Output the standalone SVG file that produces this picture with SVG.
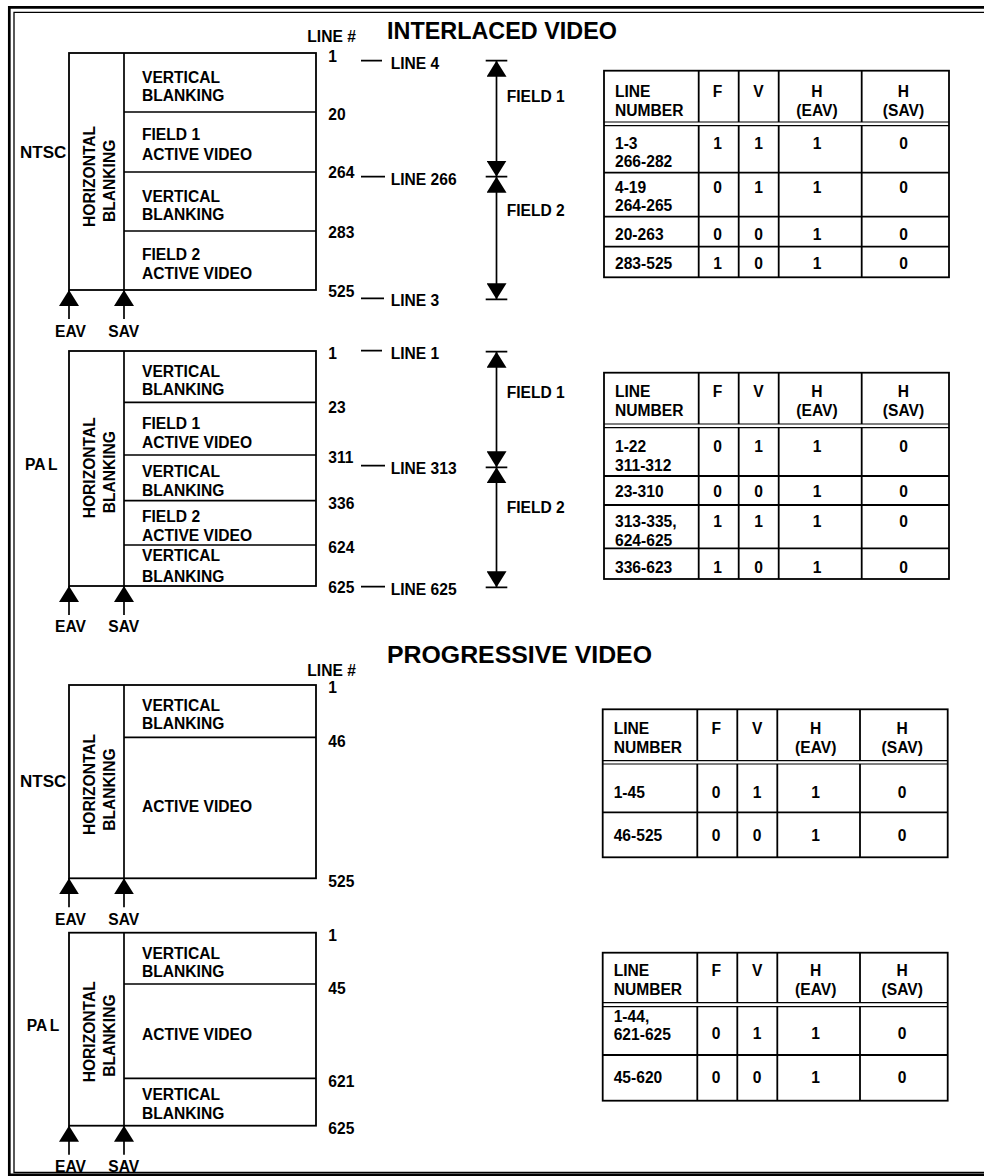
<svg xmlns="http://www.w3.org/2000/svg" width="984" height="1176" viewBox="0 0 984 1176">
<style>
text{font-family:"Liberation Sans",Arial,Helvetica,sans-serif;font-weight:bold;font-size:15.6px;fill:#000}
.c{text-anchor:middle}
.ttl{font-size:23px}
.big{font-size:17px}
.ln{stroke:#000;stroke-width:1.7;fill:none}
.box{stroke:#000;stroke-width:1.8;fill:#fff}
.tb{stroke:#000;stroke-width:1.8;fill:none}
.dl{stroke:#000;stroke-width:1.2;fill:none}
.arr{stroke:#000;stroke-width:1.7;fill:none}
</style>
<defs>
<marker id="ah" viewBox="0 0 16 20" refX="16" refY="10" markerWidth="16" markerHeight="20" markerUnits="userSpaceOnUse" orient="auto-start-reverse">
<path d="M0,0 L16,10 L0,20 Z" fill="#000"/>
</marker>
</defs>
<rect width="984" height="1176" fill="#fff"/>
<g id="border">
<path d="M984,7.3 H9.3 V1174.8 H984" stroke="#000" stroke-width="2.7" fill="none"/>
<path d="M984,12.3 H14 V1172.5 H984" stroke="#000" stroke-width="1.3" fill="none"/>
</g>
<g id="titles">
<text x="387" y="39" class="ttl" textLength="230" lengthAdjust="spacingAndGlyphs">INTERLACED VIDEO</text>
<text x="387" y="663" class="ttl" textLength="265" lengthAdjust="spacingAndGlyphs">PROGRESSIVE VIDEO</text>
</g>

<g id="ntsc-interlaced">
<rect x="69" y="53" width="247" height="237" class="box"/>
<path d="M124,53 V290 M124,112 H316 M124,172 H316 M124,231 H316" class="ln"/>
<text x="20" y="158" class="big">NTSC</text>
<text transform="translate(95,227) rotate(-90)">HORIZONTAL</text>
<text transform="translate(115,222) rotate(-90)">BLANKING</text>
<text x="142" y="82.7">VERTICAL</text><text x="142" y="100.7">BLANKING</text>
<text x="142" y="140">FIELD 1</text><text x="142" y="160.3">ACTIVE VIDEO</text>
<text x="142" y="201.7">VERTICAL</text><text x="142" y="220">BLANKING</text>
<text x="142" y="260">FIELD 2</text><text x="142" y="278.5">ACTIVE VIDEO</text>
<text x="307.3" y="41.5">LINE #</text>
<text x="328.3" y="62">1</text>
<text x="328.3" y="120">20</text>
<text x="328.3" y="178.3">264</text>
<text x="328.3" y="237.7">283</text>
<text x="328.3" y="296.7">525</text>
<text x="390.7" y="69">LINE 4</text>
<text x="390.7" y="185">LINE 266</text>
<text x="390.7" y="306">LINE 3</text>
<text x="55" y="336.5">EAV</text>
<text x="108.3" y="336.5">SAV</text>
</g>

<g id="pal-interlaced">
<rect x="69" y="351" width="247" height="235" class="box"/>
<path d="M124,351 V586 M124,402.3 H316 M124,455 H316 M124,500.7 H316 M124,545 H316" class="ln"/>
<text x="25" y="470">PA<tspan dx="2.5">L</tspan></text>
<text transform="translate(95,518.3) rotate(-90)">HORIZONTAL</text>
<text transform="translate(115,513.3) rotate(-90)">BLANKING</text>
<text x="142" y="376.7">VERTICAL</text><text x="142" y="394.5">BLANKING</text>
<text x="142" y="429.3">FIELD 1</text><text x="142" y="447.5">ACTIVE VIDEO</text>
<text x="142" y="476.7">VERTICAL</text><text x="142" y="495.7">BLANKING</text>
<text x="142" y="521.7">FIELD 2</text><text x="142" y="540.5">ACTIVE VIDEO</text>
<text x="142" y="561">VERTICAL</text><text x="142" y="581.5">BLANKING</text>
<text x="328.3" y="359">1</text>
<text x="328.3" y="412.7">23</text>
<text x="328.3" y="463.3">311</text>
<text x="328.3" y="509.3">336</text>
<text x="328.3" y="552.7">624</text>
<text x="328.3" y="593.3">625</text>
<text x="390.7" y="359">LINE 1</text>
<text x="390.7" y="474">LINE 313</text>
<text x="390.7" y="595">LINE 625</text>
<text x="55" y="632">EAV</text>
<text x="108.3" y="632">SAV</text>
</g>

<g id="ntsc-progressive">
<rect x="69" y="685" width="247" height="193.3" class="box"/>
<path d="M124,685 V878.3 M124,737.3 H316" class="ln"/>
<text x="20" y="786.7" class="big">NTSC</text>
<text transform="translate(95,835) rotate(-90)">HORIZONTAL</text>
<text transform="translate(115,830.7) rotate(-90)">BLANKING</text>
<text x="142" y="711">VERTICAL</text><text x="142" y="729.3">BLANKING</text>
<text x="142" y="811.7">ACTIVE VIDEO</text>
<text x="307.3" y="676">LINE #</text>
<text x="328.3" y="693.3">1</text>
<text x="328.3" y="746.7">46</text>
<text x="328.3" y="886.7">525</text>
<text x="55" y="924.5">EAV</text>
<text x="108.3" y="924.5">SAV</text>
</g>

<g id="pal-progressive">
<rect x="69" y="932.7" width="247" height="193" class="box"/>
<path d="M124,932.7 V1125.7 M124,984 H316 M124,1078.3 H316" class="ln"/>
<text x="26.7" y="1030.7">PA<tspan dx="2.5">L</tspan></text>
<text transform="translate(95,1082.3) rotate(-90)">HORIZONTAL</text>
<text transform="translate(115,1076.7) rotate(-90)">BLANKING</text>
<text x="142" y="959">VERTICAL</text><text x="142" y="977.3">BLANKING</text>
<text x="142" y="1040">ACTIVE VIDEO</text>
<text x="142" y="1100">VERTICAL</text><text x="142" y="1119.3">BLANKING</text>
<text x="328.3" y="940.7">1</text>
<text x="328.3" y="994">45</text>
<text x="328.3" y="1086.7">621</text>
<text x="328.3" y="1134">625</text>
<text x="55" y="1171.5">EAV</text>
<text x="108.3" y="1171.5">SAV</text>
</g>

<g id="field-ntsc">
<text x="506.7" y="101.7">FIELD 1</text>
<text x="506.7" y="216">FIELD 2</text>
</g>
<g id="field-pal">
<text x="506.7" y="398.3">FIELD 1</text>
<text x="506.7" y="513.3">FIELD 2</text>
</g>

<g id="connectors">
<path d="M361,60.7 H382 M361,176.7 H385 M361,298.3 H384 M361,350.7 H382 M361,465.7 H385 M361,586.7 H385" class="ln"/>
<path d="M485.7,60.7 H507.3 M485.7,176.7 H507.3 M485.7,299.3 H507.3 M485.7,351.7 H507.3 M485.7,467.3 H507.3 M485.7,587.3 H507.3" class="ln"/>
<line x1="496.5" y1="60.7" x2="496.5" y2="176.7" class="arr" marker-start="url(#ah)" marker-end="url(#ah)"/>
<line x1="496.5" y1="176.7" x2="496.5" y2="299.3" class="arr" marker-start="url(#ah)" marker-end="url(#ah)"/>
<line x1="496.5" y1="351.7" x2="496.5" y2="467.3" class="arr" marker-start="url(#ah)" marker-end="url(#ah)"/>
<line x1="496.5" y1="467.3" x2="496.5" y2="587.3" class="arr" marker-start="url(#ah)" marker-end="url(#ah)"/>
<line x1="69" y1="319" x2="69" y2="290" class="arr" marker-end="url(#ah)"/>
<line x1="124" y1="319" x2="124" y2="290" class="arr" marker-end="url(#ah)"/>
<line x1="69" y1="615" x2="69" y2="586" class="arr" marker-end="url(#ah)"/>
<line x1="124" y1="615" x2="124" y2="586" class="arr" marker-end="url(#ah)"/>
<line x1="69" y1="907.3" x2="69" y2="878.3" class="arr" marker-end="url(#ah)"/>
<line x1="124" y1="907.3" x2="124" y2="878.3" class="arr" marker-end="url(#ah)"/>
<line x1="69" y1="1154.7" x2="69" y2="1125.7" class="arr" marker-end="url(#ah)"/>
<line x1="124" y1="1154.7" x2="124" y2="1125.7" class="arr" marker-end="url(#ah)"/>
</g>

<g id="table-ntsc-interlaced">
<rect x="604" y="70.7" width="345" height="206.6" class="tb" stroke-width="2"/>
<path d="M698.7,70.7 V122 M738.7,70.7 V122 M778.7,70.7 V122 M861.7,70.7 V122 M698.7,125.7 V277.3 M738.7,125.7 V277.3 M778.7,125.7 V277.3 M861.7,125.7 V277.3 M604,172.7 H949 M604,216.7 H949 M604,246.7 H949" class="tb"/>
<path d="M604,122 H949 M604,125.7 H949" class="dl"/>
<text x="615" y="96.7">LINE</text><text x="615" y="116">NUMBER</text>
<text x="717.5" y="96.7" class="c">F</text>
<text x="758.5" y="96.7" class="c">V</text>
<text x="817" y="96.7" class="c">H</text><text x="817" y="116" class="c">(EAV)</text>
<text x="903.5" y="96.7" class="c">H</text><text x="903.5" y="116" class="c">(SAV)</text>
<text x="615" y="149.3">1-3</text><text x="615" y="167.3">266-282</text>
<text x="717.5" y="149.3" class="c">1</text><text x="758.5" y="149.3" class="c">1</text><text x="817" y="149.3" class="c">1</text><text x="903.5" y="149.3" class="c">0</text>
<text x="615" y="192.7">4-19</text><text x="615" y="210.7">264-265</text>
<text x="717.5" y="192.7" class="c">0</text><text x="758.5" y="192.7" class="c">1</text><text x="817" y="192.7" class="c">1</text><text x="903.5" y="192.7" class="c">0</text>
<text x="615" y="240">20-263</text>
<text x="717.5" y="240" class="c">0</text><text x="758.5" y="240" class="c">0</text><text x="817" y="240" class="c">1</text><text x="903.5" y="240" class="c">0</text>
<text x="615" y="269.3">283-525</text>
<text x="717.5" y="269.3" class="c">1</text><text x="758.5" y="269.3" class="c">0</text><text x="817" y="269.3" class="c">1</text><text x="903.5" y="269.3" class="c">0</text>
</g>

<g id="table-pal-interlaced">
<rect x="604" y="372.7" width="345" height="206.3" class="tb" stroke-width="2"/>
<path d="M698.7,372.7 V424 M738.7,372.7 V424 M778.7,372.7 V424 M861.7,372.7 V424 M698.7,427.7 V579 M738.7,427.7 V579 M778.7,427.7 V579 M861.7,427.7 V579 M604,476 H949 M604,505 H949 M604,548.3 H949" class="tb"/>
<path d="M604,424 H949 M604,427.7 H949" class="dl"/>
<text x="615" y="396.7">LINE</text><text x="615" y="416">NUMBER</text>
<text x="717.5" y="396.7" class="c">F</text>
<text x="758.5" y="396.7" class="c">V</text>
<text x="817" y="396.7" class="c">H</text><text x="817" y="416" class="c">(EAV)</text>
<text x="903.5" y="396.7" class="c">H</text><text x="903.5" y="416" class="c">(SAV)</text>
<text x="615" y="451.7">1-22</text><text x="615" y="470.7">311-312</text>
<text x="717.5" y="451.7" class="c">0</text><text x="758.5" y="451.7" class="c">1</text><text x="817" y="451.7" class="c">1</text><text x="903.5" y="451.7" class="c">0</text>
<text x="615" y="497.3">23-310</text>
<text x="717.5" y="497.3" class="c">0</text><text x="758.5" y="497.3" class="c">0</text><text x="817" y="497.3" class="c">1</text><text x="903.5" y="497.3" class="c">0</text>
<text x="615" y="526.7">313-335,</text><text x="615" y="545.7">624-625</text>
<text x="717.5" y="526.7" class="c">1</text><text x="758.5" y="526.7" class="c">1</text><text x="817" y="526.7" class="c">1</text><text x="903.5" y="526.7" class="c">0</text>
<text x="615" y="573.3">336-623</text>
<text x="717.5" y="573.3" class="c">1</text><text x="758.5" y="573.3" class="c">0</text><text x="817" y="573.3" class="c">1</text><text x="903.5" y="573.3" class="c">0</text>
</g>

<g id="table-ntsc-progressive">
<rect x="602.7" y="709.3" width="345" height="148" class="tb" stroke-width="2"/>
<path d="M697.3,709.3 V760.7 M737.3,709.3 V760.7 M777.3,709.3 V760.7 M860,709.3 V760.7 M697.3,764 V857.3 M737.3,764 V857.3 M777.3,764 V857.3 M860,764 V857.3 M602.7,812.3 H947.7" class="tb"/>
<path d="M602.7,760.7 H947.7 M602.7,764 H947.7" class="dl"/>
<text x="613.7" y="734">LINE</text><text x="613.7" y="753.3">NUMBER</text>
<text x="716.2" y="734" class="c">F</text>
<text x="757.2" y="734" class="c">V</text>
<text x="815.7" y="734" class="c">H</text><text x="815.7" y="753.3" class="c">(EAV)</text>
<text x="902.2" y="734" class="c">H</text><text x="902.2" y="753.3" class="c">(SAV)</text>
<text x="613.7" y="798.3">1-45</text>
<text x="716.2" y="798.3" class="c">0</text><text x="757.2" y="798.3" class="c">1</text><text x="815.7" y="798.3" class="c">1</text><text x="902.2" y="798.3" class="c">0</text>
<text x="613.7" y="840.7">46-525</text>
<text x="716.2" y="840.7" class="c">0</text><text x="757.2" y="840.7" class="c">0</text><text x="815.7" y="840.7" class="c">1</text><text x="902.2" y="840.7" class="c">0</text>
</g>

<g id="table-pal-progressive">
<rect x="602.7" y="952.7" width="345" height="148" class="tb" stroke-width="2"/>
<path d="M697.3,952.7 V1002.7 M737.3,952.7 V1002.7 M777.3,952.7 V1002.7 M860,952.7 V1002.7 M697.3,1006.7 V1100.7 M737.3,1006.7 V1100.7 M777.3,1006.7 V1100.7 M860,1006.7 V1100.7 M602.7,1055 H947.7" class="tb"/>
<path d="M602.7,1002.7 H947.7 M602.7,1006.7 H947.7" class="dl"/>
<text x="613.7" y="976">LINE</text><text x="613.7" y="995">NUMBER</text>
<text x="716.2" y="976" class="c">F</text>
<text x="757.2" y="976" class="c">V</text>
<text x="815.7" y="976" class="c">H</text><text x="815.7" y="995" class="c">(EAV)</text>
<text x="902.2" y="976" class="c">H</text><text x="902.2" y="995" class="c">(SAV)</text>
<text x="613.7" y="1021.7">1-44,</text><text x="613.7" y="1040">621-625</text>
<text x="716.2" y="1039.3" class="c">0</text><text x="757.2" y="1039.3" class="c">1</text><text x="815.7" y="1039.3" class="c">1</text><text x="902.2" y="1039.3" class="c">0</text>
<text x="613.7" y="1083.3">45-620</text>
<text x="716.2" y="1083.3" class="c">0</text><text x="757.2" y="1083.3" class="c">0</text><text x="815.7" y="1083.3" class="c">1</text><text x="902.2" y="1083.3" class="c">0</text>
</g>
</svg>
